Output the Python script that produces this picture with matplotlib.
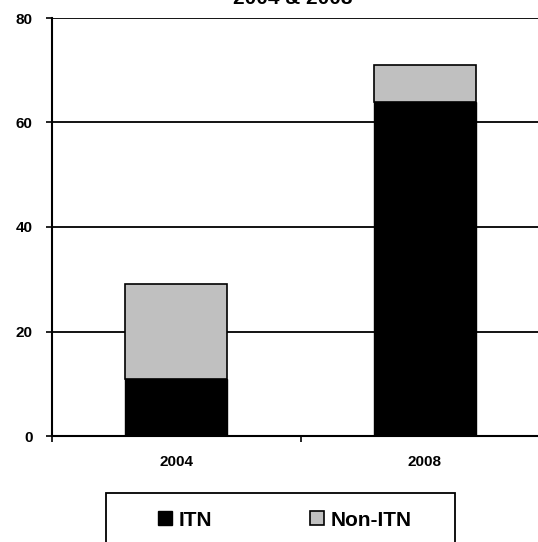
import matplotlib.pyplot as plt
from matplotlib.patches import Rectangle

plt.rcParams['font.family'] = ['Liberation Sans', 'DejaVu Sans']

years = ['2004', '2008']
itn = [11, 64]
non_itn = [18, 7]
yticks = [0, 20, 40, 60, 80]

fig = plt.figure(figsize=(5.38, 5.42), dpi=100)
# plot area runs a little past the right edge of the figure
ax = fig.add_axes([52 / 538, 106 / 542, 497 / 538, 418 / 542])

x = list(range(len(years)))
ax.bar(x, itn, width=0.41, color='black', edgecolor='black', linewidth=1, zorder=3, label='ITN')
ax.bar(x, non_itn, bottom=itn, width=0.41, color='#c0c0c0', edgecolor='black',
       linewidth=1.2, zorder=3, label='Non-ITN')

ax.set_xlim(-0.5, 1.5)
ax.set_ylim(0, 80)
ax.set_yticks(yticks)
ax.set_yticklabels([str(v) for v in yticks], fontsize=11, fontweight='bold')
ax.set_xticks(x)
ax.set_xticklabels(years, fontsize=11, fontweight='bold')
ax.set_xticks([-0.5, 0.5, 1.5], minor=True)
ax.tick_params(axis='x', which='major', length=0, pad=14)
ax.tick_params(axis='x', which='minor', length=4, width=1.2, direction='out')
ax.tick_params(axis='y', length=4, width=1.2, direction='out', pad=10)

ax.yaxis.grid(True, color='black', linewidth=1.3, zorder=0)
ax.set_axisbelow(True)
for side in ['top', 'right']:
    ax.spines[side].set_visible(False)
ax.spines['left'].set_linewidth(1.5)
ax.spines['bottom'].set_linewidth(1.5)

# title sits partly above the top edge of the figure
fig.text(293 / 538, 1 - 4.5 / 542, '2004 & 2008', ha='center', va='baseline',
         fontsize=15, fontweight='bold')

# legend box running off the bottom edge
fig.patches.append(Rectangle((106 / 538, -0.02), 349 / 538, 0.02 + 49 / 542,
                             transform=fig.transFigure, fill=False,
                             edgecolor='black', linewidth=1.3))
handles, labels = ax.get_legend_handles_labels()
leg = fig.legend(handles, labels, loc='center', bbox_to_anchor=(285 / 538, 1 - 520 / 542),
                 ncol=2, frameon=False, handlelength=0.65, handleheight=0.65,
                 handletextpad=0.35, columnspacing=4.7,
                 prop={'size': 15, 'weight': 'bold'})

fig.savefig('out.png', dpi=100)
